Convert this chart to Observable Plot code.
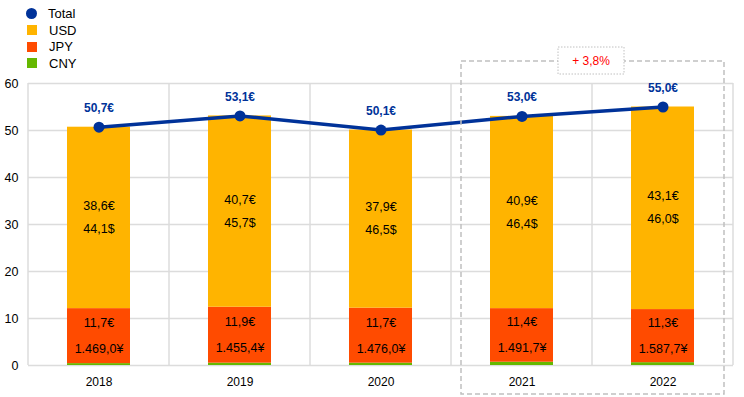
<!DOCTYPE html>
<html><head><meta charset="utf-8">
<script src="https://cdn.jsdelivr.net/npm/d3@7"></script>
<script src="https://cdn.jsdelivr.net/npm/@observablehq/plot@0.6"></script>
<style>
body{margin:0;background:#fff;font-family:"Liberation Sans",Arial,sans-serif;}
#wrap{position:relative;width:744px;height:397px;}
#legend{position:absolute;left:26px;top:5px;font-size:13px;color:#000;}
#legend .row{display:flex;align-items:center;height:16.7px;}
#legend .sw{width:10px;height:10px;margin-right:12px;}
#legend .dot{border-radius:50%;width:11px;height:11px;margin-left:0px;margin-right:11px;}
svg{position:absolute;left:0;top:0;}
</style></head>
<body><div id="wrap"></div>
<script>
const years = ["2018","2019","2020","2021","2022"];
const cny = [0.4, 0.5, 0.5, 0.7, 0.6];
const jpy = [11.7, 11.9, 11.7, 11.4, 11.3];
const usd = [38.6, 40.7, 37.9, 40.9, 43.1];
const total = [50.7, 53.1, 50.1, 53.0, 55.0];
const usdLocal = ["44,1$", "45,7$", "46,5$", "46,4$", "46,0$"];
const jpyLocal = ["1.469,0¥", "1.455,4¥", "1.476,0¥", "1.491,7¥", "1.587,7¥"];
const currencies = ["USD", "JPY", "CNY"];
const colors = ["#FFB400", "#FF4B00", "#65B800"];
const lineColor = "#003299";
const yTicks = [0, 10, 20, 30, 40, 50, 60];
const changeLabel = "+ 3,8%";
const changeYears = ["2021", "2022"];

const fmt = v => v.toFixed(1).replace(".", ",");

const rows = [];
years.forEach((y, i) => {
  rows.push({year: y, currency: "CNY", value: cny[i]});
  rows.push({year: y, currency: "JPY", value: jpy[i]});
  rows.push({year: y, currency: "USD", value: usd[i]});
});
const totals = years.map((y, i) => ({year: y, value: total[i]}));
const usdLab = years.map((y, i) => ({year: y, mid: cny[i] + jpy[i] + usd[i] / 2, eur: fmt(usd[i]) + "€", loc: usdLocal[i]}));
const jpyLab = years.map((y, i) => ({year: y, mid: cny[i] + jpy[i] / 2, eur: fmt(jpy[i]) + "€", loc: jpyLocal[i]}));

const W = 744, H = 397, mT = 83, mB = 32, mL = 28, mR = 11;
const narrow = "'Liberation Sans Narrow','Arial Narrow','Liberation Sans',sans-serif";

const plot = Plot.plot({
  width: W, height: H,
  marginTop: mT, marginBottom: mB, marginLeft: mL, marginRight: mR,
  style: {fontFamily: "'Liberation Sans',Arial,sans-serif", background: "transparent"},
  x: {domain: years, paddingInner: 0.55, paddingOuter: 0.275, label: null},
  y: {domain: [0, 60], label: null},
  color: {domain: currencies, range: colors},
  marks: [
    Plot.ruleY(yTicks, {stroke: "#dcdcdc", strokeWidth: 1.5}),
    Plot.barY(rows, {x: "year", y: "value", fill: "currency", order: ["CNY", "JPY", "USD"]}),
    Plot.text(usdLab, {x: "year", y: "mid", text: "eur", dy: -12, fontSize: 12.5, fontFamily: narrow, fill: "#000"}),
    Plot.text(usdLab, {x: "year", y: "mid", text: "loc", dy: 11, fontSize: 12.5, fontFamily: narrow, fill: "#000"}),
    Plot.text(jpyLab, {x: "year", y: "mid", text: "eur", dy: -13, fontSize: 12.5, fontFamily: narrow, fill: "#000"}),
    Plot.text(jpyLab, {x: "year", y: "mid", text: "loc", dy: 13, fontSize: 12.5, fontFamily: narrow, fill: "#000"}),
    Plot.line(totals, {x: "year", y: "value", stroke: lineColor, strokeWidth: 3.5}),
    Plot.dot(totals, {x: "year", y: "value", r: 5.5, fill: lineColor}),
    Plot.text(totals, {x: "year", y: "value", text: d => fmt(d.value) + "€", dy: -19, fontSize: 12, fontWeight: "bold", fill: lineColor}),
    Plot.axisX({tickSize: 0, tickPadding: 12, fontSize: 12, label: null}),
    Plot.axisY(yTicks, {tickSize: 0, tickPadding: 10, fontSize: 12.5, label: null})
  ]
});

const xs = plot.scale("x");
const step = xs.step, bw = xs.bandwidth;
const svg = d3.select(plot);
// vertical gridlines at category boundaries
const bounds = [];
years.forEach(y => bounds.push(xs.apply(y) + bw / 2 - step / 2));
bounds.push(xs.apply(years[years.length - 1]) + bw / 2 + step / 2);
svg.insert("g", ":first-child").selectAll("line").data(bounds).join("line")
  .attr("x1", d => d).attr("x2", d => d).attr("y1", mT).attr("y2", H - mB)
  .attr("stroke", "#dcdcdc").attr("stroke-width", 1.5);

// dashed highlight box around the last two years
const c1 = xs.apply(changeYears[0]) + bw / 2, c2 = xs.apply(changeYears[1]) + bw / 2;
const bx1 = c1 - step / 2 + 10, bx2 = c2 + step / 2 - 9;
const by1 = mT - 22, by2 = H - 3;
const g = svg.append("g");
g.append("rect").attr("x", bx1).attr("y", by1).attr("width", bx2 - bx1).attr("height", by2 - by1)
  .attr("fill", "none").attr("stroke", "#c0c0c0").attr("stroke-width", 1.5).attr("stroke-dasharray", "5,3");
const cx = (c1 + c2) / 2 - 1;
g.append("rect").attr("x", cx - 33).attr("y", by1 - 14).attr("width", 66).attr("height", 27)
  .attr("fill", "#fff").attr("stroke", "#c0c0c0").attr("stroke-width", 1).attr("stroke-dasharray", "1.5,1.5");
g.append("text").attr("x", cx).attr("y", by1).attr("dy", "0.35em").attr("text-anchor", "middle")
  .attr("fill", "#ff0000").attr("font-size", 12).text(changeLabel);

const wrap = document.getElementById("wrap");
wrap.appendChild(plot);

// legend
const legend = document.createElement("div");
legend.id = "legend";
const items = [{label: "Total", color: lineColor, dot: true}].concat(currencies.map((c, i) => ({label: c, color: colors[i]})));
items.forEach(it => {
  const r = document.createElement("div"); r.className = "row";
  const s = document.createElement("div"); s.className = it.dot ? "sw dot" : "sw"; s.style.background = it.color;
  if (!it.dot) s.style.marginLeft = "1px";
  const t = document.createElement("span"); t.textContent = it.label;
  r.appendChild(s); r.appendChild(t); legend.appendChild(r);
});
wrap.appendChild(legend);
</script>
</body></html>
